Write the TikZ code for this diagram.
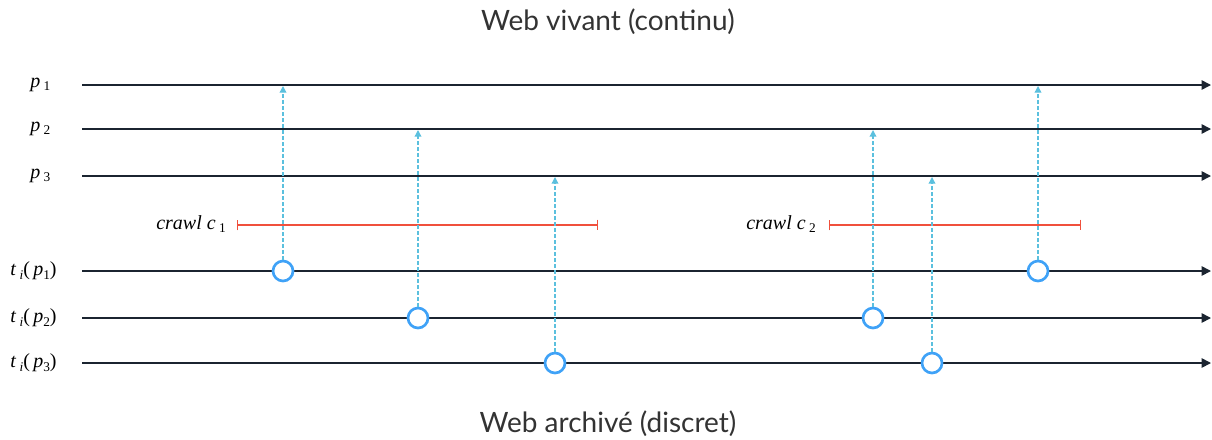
\documentclass[tikz,border=0pt]{standalone}
\usepackage{fontspec}
\setmainfont{Liberation Serif}
\newfontfamily\titlefont{Lato}
\usetikzlibrary{arrows.meta}
\definecolor{linec}{HTML}{1B2430}
\definecolor{dashc}{HTML}{5BC0DE}
\definecolor{circc}{HTML}{3FA2F7}
\definecolor{redc}{HTML}{F0503C}
\newcommand{\sbs}[1]{\raisebox{-0.35ex}{\fontsize{10}{12}\selectfont #1}}
\tikzset{
  timeline/.style={draw=linec, line width=1.2pt, -{Triangle[length=7pt,width=7pt]}},
  fetch/.style={draw=dashc, line width=1pt, dash pattern=on 2.5pt off 2pt, -{Triangle[length=5pt,width=5pt]}},
  snap/.style={circle, draw=circc, fill=white, line width=2pt, minimum size=15pt, inner sep=0pt},
  crawlbar/.style={draw=redc, line width=1pt, {Bar[width=8pt]}-{Bar[width=8pt]}},
  lab/.style={font=\fontsize{15}{18}\selectfont, inner sep=0pt},
  ttl/.style={font=\titlefont\fontsize{21}{25}\selectfont, text=black!80}
}
\begin{document}
\begin{tikzpicture}[x=0.75pt,y=-0.75pt]
\useasboundingbox (0,0) rectangle (1212,439);
\node[ttl] (top) at (608,22) {Web vivant (continu)};
\node[ttl] (bot) at (608,424) {Web archivé (discret)};
% live web lines
\foreach \n/\y in {1/85,2/129,3/176}{
  \coordinate (ps\n) at (82,\y);
  \coordinate (pe\n) at (1211,\y);
  \draw[timeline] (ps\n) -- (pe\n);
  \node[lab, anchor=west] (pl\n) at (30,\y) {\textit{p}\,\sbs{\n}};
}
% archive lines
\foreach \n/\y in {1/271,2/318,3/363}{
  \coordinate (ts\n) at (82,\y);
  \coordinate (te\n) at (1211,\y);
  \draw[timeline] (ts\n) -- (te\n);
  \node[lab, anchor=west] (tl\n) at (10,\y) {\textit{t}\,\sbs{\textit{i}}(\,\textit{p}\sbs{\n})};
}
% crawls
\coordinate (c1a) at (237,225);
\coordinate (c1b) at (598,225);
\draw[crawlbar] (c1a) -- (c1b);
\node[lab, anchor=east] (c1l) at (226,224) {\textit{crawl c}\,\sbs{1}};
\coordinate (c2a) at (829,225);
\coordinate (c2b) at (1081,225);
\draw[crawlbar] (c2a) -- (c2b);
\node[lab, anchor=east] (c2l) at (816,224) {\textit{crawl c}\,\sbs{2}};
% snapshots
\foreach \nm/\x/\y/\ty in {a/283/271/86, b/418/318/130, c/555/363/177, d/873/318/130, e/932/363/177, f/1038/271/86}{
  \coordinate (up\nm) at (\x,\ty);
  \node[snap] (s\nm) at (\x,\y) {};
  \draw[fetch] (s\nm) -- (up\nm);
}
\end{tikzpicture}
\end{document}
